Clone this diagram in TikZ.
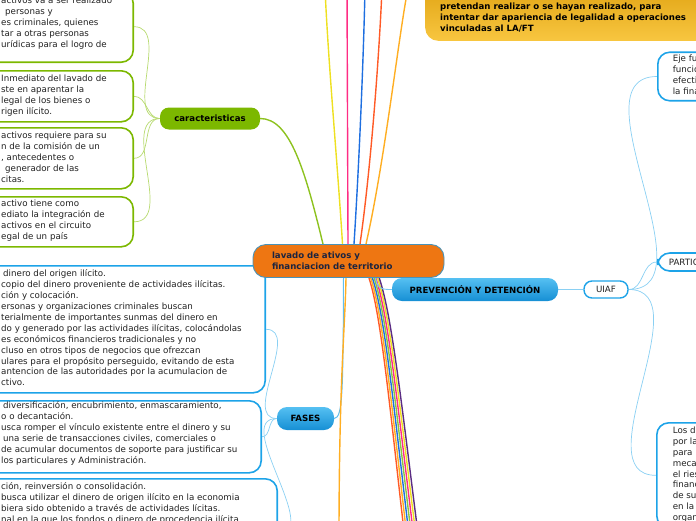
\documentclass[tikz,border=0pt]{standalone}
\usepackage{fontspec}
\setmainfont{DejaVu Sans}
\usetikzlibrary{positioning}
\definecolor{naranja}{HTML}{EE7612}
\definecolor{verde}{HTML}{7CB800}
\definecolor{verdeclaro}{HTML}{B7DA6F}
\definecolor{verdelinea}{HTML}{8DC21F}
\definecolor{azul}{HTML}{1DA3E8}
\definecolor{azulclaro}{HTML}{8AD0F3}
\definecolor{azularriba}{HTML}{55C0F2}
\definecolor{azulabajo}{HTML}{168FD4}
\definecolor{oro}{HTML}{D69500}
\definecolor{oroclaro}{HTML}{F8C640}
\definecolor{tinta}{HTML}{222222}
\definecolor{marino}{HTML}{1B2440}
\definecolor{rojo}{HTML}{FF5A26}
\definecolor{naranjita}{HTML}{FFAE22}
\definecolor{azulosc}{HTML}{1E6FE0}
\definecolor{verdelin}{HTML}{8CC63F}
\definecolor{rosa}{HTML}{FF2C84}
\definecolor{amarillo}{HTML}{EEE020}
\definecolor{morado}{HTML}{5B2C83}
\pgfdeclarelayer{fondo}
\pgfsetlayers{fondo,main}

\begin{document}
\begin{tikzpicture}[x=1pt,y=-1pt,
  every node/.style={font=\fontsize{8.7}{10.9}\selectfont, text=tinta},
  txt/.style={anchor=north west, align=left, inner sep=0pt, font=\fontsize{8.7}{10.9}\selectfont\strut},
  cajaverde/.style={draw=verde, line width=1.6pt, rounded corners=12pt, fill=white, inner sep=0pt},
  cajaazul/.style={draw=azul, line width=1.6pt, rounded corners=12pt, fill=white},
  tema/.style={rounded corners=10pt, font=\fontsize{8.6}{11}\selectfont\bfseries, text=black, minimum height=23pt},
  brillo/.style={top color=azularriba, bottom color=azulabajo},
  rama/.style={verdeclaro, line width=0.7pt},
  ramaazul/.style={azulclaro, line width=0.7pt},
  hilo/.style={line width=1.4pt}]
\useasboundingbox (0,0) rectangle (696,520);
\clip (0,0) rectangle (696,520);

% cajas de caracteristicas
\node[cajaverde, minimum width=220pt, minimum height=71pt, anchor=south east] (ca1) at (134,63) {};
\node[cajaverde, minimum width=220pt, minimum height=51pt, anchor=north east] (ca2) at (134,70) {};
\node[cajaverde, minimum width=220pt, minimum height=61pt, anchor=north east] (ca3) at (134,127) {};
\node[cajaverde, minimum width=220pt, minimum height=50pt, anchor=north east] (ca4) at (134,196) {};
\node[txt] (ca1t) at (1,-3.3) {activos va a ser realizado\\\hspace*{4pt}personas y\\es criminales, quienes\\tar a otras personas\\urídicas para el logro de};
\node[txt] (ca2t) at (1,74.7) {Inmediato del lavado de\\ste en aparentar la\\legal de los bienes o\\rigen ilícito.};
\node[txt] (ca3t) at (1,131.7) {activos requiere para su\\n de la comisión de un\\, antecedentes o\\\hspace*{4pt}generador de las\\citas.};
\node[txt] (ca4t) at (1,199.7) {activo tiene como\\ediato la integración de\\activos en el circuito\\egal de un país};

% cajas de fases
\node[cajaazul, inner sep=0pt, minimum width=300pt, minimum height=127pt, anchor=north east] (fa1) at (266,265) {};
\node[cajaazul, inner sep=0pt, minimum width=300pt, minimum height=72pt, anchor=north east] (fa2) at (262,400) {};
\node[cajaazul, inner sep=0pt, minimum width=300pt, minimum height=110pt, anchor=north east] (fa3) at (278,478) {};
\node[txt] (fa1t) at (1,269.7) {\hspace*{2pt}dinero del origen ilícito.\\copio del dinero proveniente de actividades ilícitas.\\ción y colocación.\\ersonas y organizaciones criminales buscan\\terialmente de importantes sunmas del dinero en\\do y generado por las actividades ilícitas, colocándolas\\es económicos financieros tradicionales y no\\cluso en otros tipos de negocios que ofrezcan\\ulares para el propósito perseguido, evitando de esta\\antencion de las autoridades por la acumulacion de\\ctivo.};
\node[txt] (fa2t) at (1,401.7) {\hspace*{2pt}diversificación, encubrimiento, enmascaramiento,\\o o decantación.\\usca romper el vínculo existente entre el dinero y su\\\hspace*{2pt}una serie de transacciones civiles, comerciales o\\de acumular documentos de soporte para justificar su\\los particulares y Administración.};
\node[txt] (fa3t) at (1,482.7) {ción, reinversión o consolidación.\\busca utilizar el dinero de origen ilícito en la economia\\biera sido obtenido a través de actividades lícitas.\\nal en la que los fondos o dinero de procedencia ilícita};

% caja dorada de arriba
\node[anchor=south west, minimum width=320pt, minimum height=80pt, rounded corners=13pt, top color=oro, bottom color=oroclaro, inner sep=0pt] (oro) at (425,41) {};
\node[txt, font=\fontsize{8.6}{11}\selectfont\bfseries\strut, text=black] (orot) at (440,-7.8) {en detectar y reportar las operaciones que se\\pretendan realizar o se hayan realizado, para\\intentar dar apariencia de legalidad a operaciones\\vinculadas al LA/FT};

% nodos principales
\node[fill=naranja, draw=azul!55!gray, line width=0.9pt, rounded corners=13pt, text width=153pt, inner xsep=19pt, align=left, minimum height=33pt, font=\fontsize{8.6}{11.4}\selectfont\bfseries, text=marino] (lav) at (348.5,261) {lavado de ativos y\\financiacion de territorio};
\node[tema, fill=verde, minimum width=100pt, minimum height=22pt, rounded corners=9pt] (car) at (210,118.5) {caracteristicas};
\node[tema, brillo, minimum width=166pt] (prev) at (475,289.5) {PREVENCIÓN Y DETENCIÓN};
\node[tema, brillo, minimum width=57pt] (fas) at (305.5,418.5) {FASES};
\node[cajaazul, line width=1.4pt, rounded corners=8pt, minimum width=44pt, minimum height=17pt, inner sep=0pt] (uiaf) at (606,289.5) {UIAF};

% cajas de la derecha
\node[cajaazul, anchor=west, align=left, inner xsep=15pt, inner ysep=3pt, font=\fontsize{8.7}{10.9}\selectfont\strut] (eje) at (657,76.5) {Eje fu\\funcio\\efecti\\la fina};
\node[cajaazul, anchor=west, inner xsep=11pt, inner ysep=0pt, minimum height=18pt] (par) at (657,262) {PARTIC};
\node[cajaazul, anchor=north west, align=left, inner xsep=16pt, inner ysep=4pt, font=\fontsize{8.7}{10.9}\selectfont\strut] (los) at (656,422) {Los d\\por la\\para\\mecan\\el ries\\financ\\de su\\en la\\organ};

\begin{pgfonlayer}{fondo}
% lineas que suben
\coordinate (sube1) at (325,-12);
\coordinate (sube2) at (347,-12);
\coordinate (sube3) at (365,-12);
\coordinate (sube4) at (382,-12);
\coordinate (sube5) at (408,-12);
\draw[amarillo, hilo] ([xshift=-6pt]lav.north) .. controls (338,170) and (328,60) .. (sube1);
\draw[rosa, hilo] ([xshift=-0.5pt]lav.north) -- (sube2);
\draw[azulosc, hilo] ([xshift=5.5pt]lav.north) .. controls (360,150) and (364,40) .. (sube3);
\draw[rojo, hilo] ([xshift=11.5pt]lav.north) .. controls (372,160) and (380,40) .. (sube4);
\draw[naranjita, hilo] ([xshift=17.5pt]lav.north) .. controls (385,160) and (398,40) .. (sube5);
\draw[verdelinea, hilo] ([xshift=-25.5pt]lav.north) .. controls (305,170) and (290,118.5) .. (car.east);
% lineas que bajan
\foreach \c [count=\i from 0] in {rojo,naranjita,azulosc,verdelin,rosa,amarillo,morado} {
  \coordinate (baja\i) at ({405+2.3*\i},540);
  \draw[\c, hilo] ([xshift={20.5pt+1.7pt*\i}]lav.south) .. controls ({381+1.8*\i},315) and ({389+2*\i},400) .. (baja\i);
}
\coordinate (bajac) at (339,540);
\draw[azul!70, line width=1pt] ([xshift=-5pt]lav.south) .. controls (343,390) and (343,418) .. (fas.east);
\draw[naranjita, hilo] ([xshift=-2.5pt]lav.south) .. controls (345,330) and (339,380) .. (bajac);
\draw[azul!60, line width=0.9pt] ([xshift=27pt]lav.south) .. controls +(2,11) and +(-10,0) .. (prev.west);
\draw[azulclaro, line width=0.9pt] (prev.east) -- (uiaf.west);
% ramas
\foreach \n in {ca1,ca2,ca3,ca4}
  \draw[rama] (car.west) to[out=180,in=0] (\n.east);
\foreach \n in {fa1,fa2,fa3}
  \draw[ramaazul] (fas.west) to[out=180,in=0] (\n.east);
\foreach \n in {eje,par,los}
  \draw[ramaazul] (uiaf.east) to[out=0,in=180] (\n.west);
\end{pgfonlayer}
\end{tikzpicture}
\end{document}
